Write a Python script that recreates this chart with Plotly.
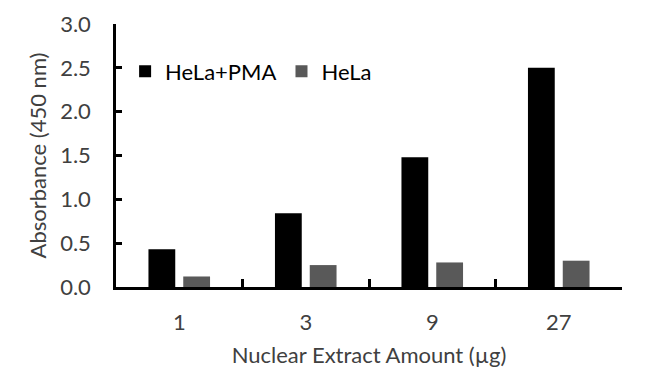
import plotly.graph_objects as go

categories = ["1", "3", "9", "27"]
hela_pma = [0.43, 0.84, 1.48, 2.50]
hela = [0.12, 0.25, 0.28, 0.30]
y_ticks = [0.0, 0.5, 1.0, 1.5, 2.0, 2.5, 3.0]

FONT = "Lato"
TXT = "#404040"
FS = 22
CLEAR = "rgba(0,0,0,0)"

fig = go.Figure()
fig.add_bar(x=categories, y=hela_pma, name="HeLa+PMA", marker=dict(color="#000000", line=dict(width=0)))
fig.add_bar(x=categories, y=hela, name="HeLa", marker=dict(color="#595959", line=dict(width=0)))

fig.update_layout(
    width=650, height=390,
    margin=dict(l=108, r=36, t=16, b=111, autoexpand=False),
    paper_bgcolor="white", plot_bgcolor="white",
    barmode="group", bargap=0.45, bargroupgap=0.23,
    font=dict(family=FONT, size=FS, color=TXT),
    legend=dict(orientation="h", x=0.018, y=0.82, xanchor="left", yanchor="middle",
                font=dict(family=FONT, size=FS, color="#000000"),
                bgcolor=CLEAR),
    xaxis=dict(type="category", showline=True, linecolor="black", linewidth=2.5,
               ticks="inside", tickson="boundaries", ticklen=8, tickwidth=3, tickcolor="black",
               showgrid=False, zeroline=False, ticklabelstandoff=14,
               title=dict(text="Nuclear Extract Amount (µg)", standoff=14, font=dict(size=FS, color=TXT)),
               tickfont=dict(size=FS, color=TXT)),
    yaxis=dict(range=[0, 3.0], tickvals=y_ticks, tickformat=".1f", showline=True,
               linecolor="black", linewidth=2.5, ticks="inside", ticklen=6, tickwidth=3,
               tickcolor="black", showgrid=False, zeroline=False, ticklabelstandoff=18,
               title=dict(text="Absorbance (450 nm)", standoff=8, font=dict(size=FS, color=TXT)),
               tickfont=dict(size=FS, color=TXT)),
)

fig.write_html("out.html")
